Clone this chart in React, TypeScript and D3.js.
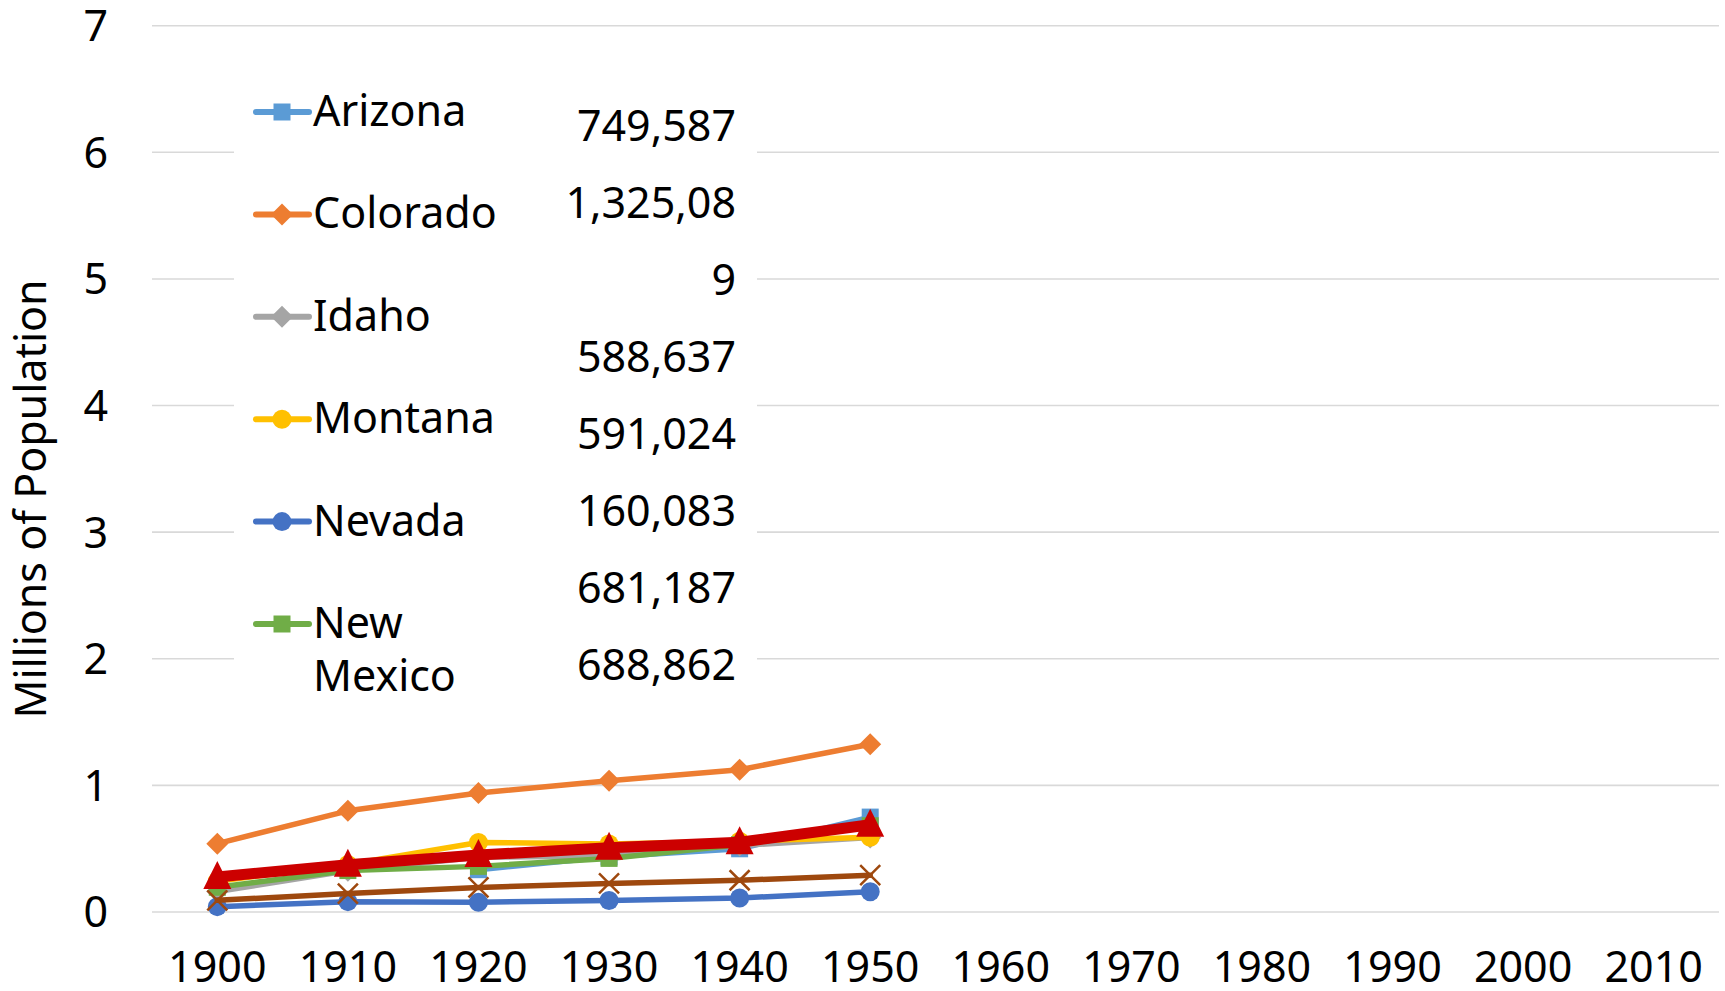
import * as React from 'react';
import {useEffect, useRef} from 'react';
import * as d3 from 'd3';

const years = ['1900', '1910', '1920', '1930', '1940', '1950', '1960', '1970', '1980', '1990', '2000', '2010'];
const yTicks = [0, 1, 2, 3, 4, 5, 6, 7];

// census counts, 1900..1950 (later decades are empty in the chart)
const arizona = [null, null, 334162, 435573, 499261, 749587];
const colorado = [539700, 799024, 939629, 1035791, 1123296, 1325089];
const idaho = [161772, 325594, 431866, 445032, 524873, 588637];
const montana = [243329, 376053, 548889, 537606, 559456, 591024];
const nevada = [42335, 81875, 77407, 91058, 110247, 160083];
const newMexico = [195310, 327301, 360350, 423317, 531818, 681187];
const utah = [276749, 373351, 449396, 507847, 550310, 688862];
const wyoming = [92531, 145965, 194402, 225565, 250742, 290529];

const seriesNames = ['Arizona', 'Colorado', 'Idaho', 'Montana', 'Nevada', 'New Mexico', 'Utah', 'Wyoming'];
const seriesColors = ['#5B9BD5', '#ED7D31', '#A5A5A5', '#FFC000', '#4472C4', '#70AD47', '#CC0000', '#9E480E'];
const seriesMarkers = ['square', 'diamond', 'diamond', 'circle', 'circle', 'square', 'triangle', 'x'];

// legend only shows the first six names, New Mexico wraps onto two lines
const legendLabels = [['Arizona'], ['Colorado'], ['Idaho'], ['Montana'], ['Nevada'], ['New', 'Mexico']];
const valueLines = ['749,587', '1,325,08', '9', '588,637', '591,024', '160,083', '681,187', '688,862'];

const FONT = '"Noto Sans", "Open Sans", sans-serif';
const W = 1725;
const H = 991;

const markerPath = (kind: string) => {
  switch (kind) {
    case 'square': return 'M-8.5,-8.5H8.5V8.5H-8.5Z';
    case 'diamond': return 'M0,-11L11,0L0,11L-11,0Z';
    case 'circle': return d3.symbol(d3.symbolCircle, Math.PI * 9.5 * 9.5)()!;
    case 'triangle': return 'M0,-16L14,12H-14Z';
    case 'x': return 'M-10,-10L10,10M10,-10L-10,10';
    default: return '';
  }
};

export default function App() {
  const ref = useRef<SVGSVGElement>(null);

  useEffect(() => {
    const svg = d3.select(ref.current);
    svg.selectAll('*').remove();

    const x = d3.scaleBand().domain(years).range([152, 1719]);
    const cx = (yr: string) => (x(yr) ?? 0) + x.bandwidth() / 2;
    const y = d3.scaleLinear().domain([0, 7]).range([912, 25.7]);

    svg.append('rect').attr('width', W).attr('height', H).attr('fill', '#fff');

    // gridlines
    svg.append('g')
      .selectAll('line')
      .data(yTicks)
      .join('line')
      .attr('x1', 152)
      .attr('x2', 1719)
      .attr('y1', d => y(d))
      .attr('y2', d => y(d))
      .attr('stroke', '#D9D9D9')
      .attr('stroke-width', 1.6);

    // y tick labels
    svg.append('g')
      .style('font', `43px ${FONT}`)
      .attr('text-anchor', 'end')
      .selectAll('text')
      .data(yTicks)
      .join('text')
      .attr('x', 108)
      .attr('y', d => y(d))
      .attr('dy', '0.36em')
      .attr('fill', '#000')
      .text(d => d);

    // x tick labels
    svg.append('g')
      .style('font', `43px ${FONT}`)
      .attr('text-anchor', 'middle')
      .selectAll('text')
      .data(years)
      .join('text')
      .attr('x', d => cx(d))
      .attr('y', 982)
      .attr('fill', '#000')
      .text(d => d);

    svg.append('text')
      .attr('transform', 'translate(46,499) rotate(-90)')
      .attr('text-anchor', 'middle')
      .style('font', `43px ${FONT}`)
      .attr('fill', '#000')
      .text('Millions of Population');

    // series
    const allSeries = [arizona, colorado, idaho, montana, nevada, newMexico, utah, wyoming];
    const line = d3.line<[string, number | null]>()
      .defined(d => d[1] != null)
      .x(d => cx(d[0]))
      .y(d => y((d[1] as number) / 1e6));

    const plot = svg.append('g');
    allSeries.forEach((vals, i) => {
      const pts = vals.map((v, j) => [years[j], v] as [string, number | null]);
      const color = seriesColors[i];
      const thick = seriesNames[i] === 'Utah';
      const g = plot.append('g');
      g.append('path')
        .attr('d', line(pts))
        .attr('fill', 'none')
        .attr('stroke', color)
        .attr('stroke-width', thick ? 11 : 5.5)
        .attr('stroke-linejoin', 'round')
        .attr('stroke-linecap', 'round');
      const kind = seriesMarkers[i];
      g.selectAll('path.m')
        .data(pts.filter(p => p[1] != null))
        .join('path')
        .attr('class', 'm')
        .attr('transform', d => `translate(${cx(d[0])},${y((d[1] as number) / 1e6)})`)
        .attr('d', markerPath(kind))
        .attr('fill', kind === 'x' ? 'none' : color)
        .attr('stroke', kind === 'x' ? color : 'none')
        .attr('stroke-width', kind === 'x' ? 2.5 : 0);
    });

    // legend box
    const legend = svg.append('g');
    legend.append('rect')
      .attr('x', 234)
      .attr('y', 62)
      .attr('width', 523)
      .attr('height', 660)
      .attr('fill', '#fff');

    legendLabels.forEach((lines, i) => {
      const ly = 112 + i * 102.4;
      const item = legend.append('g');
      item.append('line')
        .attr('x1', 256).attr('x2', 309)
        .attr('y1', ly).attr('y2', ly)
        .attr('stroke', seriesColors[i])
        .attr('stroke-width', 6)
        .attr('stroke-linecap', 'round');
      item.append('path')
        .attr('transform', `translate(282,${ly})`)
        .attr('d', markerPath(seriesMarkers[i]))
        .attr('fill', seriesColors[i]);
      item.append('g')
        .style('font', `43px ${FONT}`)
        .selectAll('text')
        .data(lines)
        .join('text')
        .attr('x', 313)
        .attr('y', (_, k) => ly + 14 + k * 53.4)
        .attr('fill', '#000')
        .text(d => d);
    });

    legend.append('g')
      .style('font', `43px ${FONT}`)
      .attr('text-anchor', 'end')
      .selectAll('text')
      .data(valueLines)
      .join('text')
      .attr('x', 736)
      .attr('y', (_, i) => 141 + i * 77)
      .attr('fill', '#000')
      .text(d => d);
  }, []);

  return (
    <svg ref={ref} width={W} height={H}
      style={{position: 'absolute', left: 0, top: 0, display: 'block'}}/>
  );
}
